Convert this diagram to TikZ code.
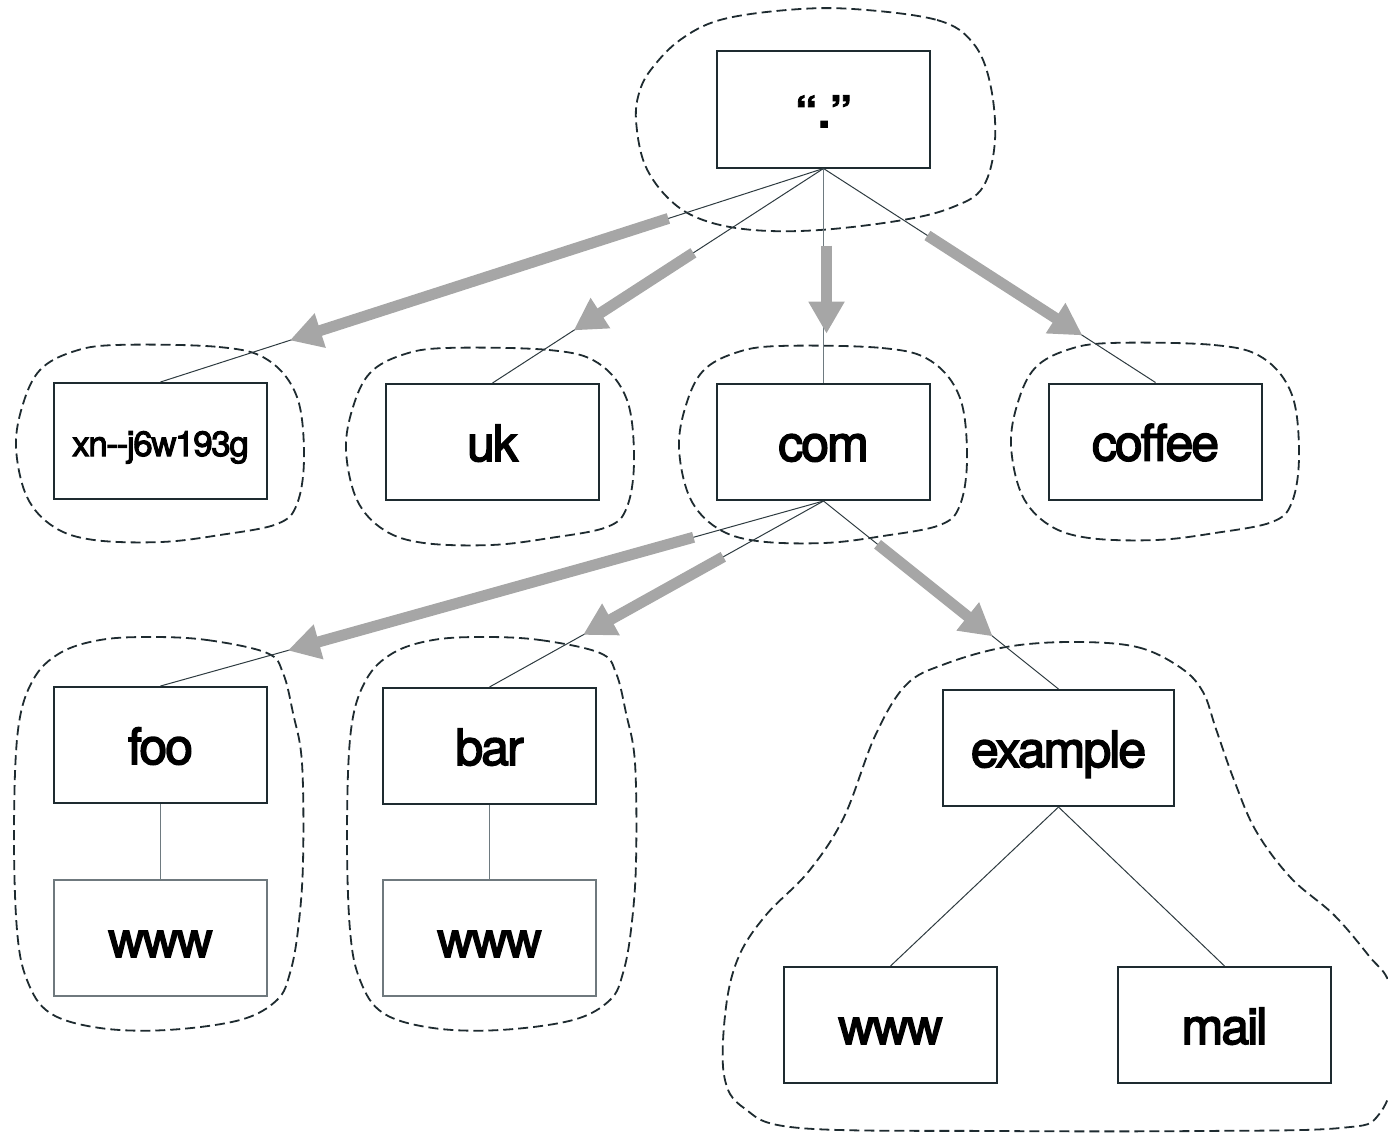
\documentclass[tikz,border=0pt]{standalone}
\usepackage{fontspec}
\setmainfont{TeX Gyre Heros}[LetterSpace=-4,FakeBold=3,Ligatures=TeXOff]
\newfontfamily\qfont{TeX Gyre Heros Bold}[LetterSpace=2,FakeBold=2]
\usetikzlibrary{arrows.meta,calc}
\definecolor{boxc}{HTML}{1E2B30}
\definecolor{linec}{HTML}{2E3B40}
\definecolor{garr}{HTML}{A6A6A6}
\definecolor{litec}{HTML}{6F797E}
\definecolor{vconn}{HTML}{6E7A80}
\begin{document}
\begin{tikzpicture}[x=1pt,y=-1pt,
  dnsbox/.style={draw=boxc,line width=2pt,fill=white,minimum width=213pt,minimum height=116pt,inner sep=0pt,
    font=\fontsize{50pt}{60pt}\selectfont,text height=38pt,text depth=0pt},
  smalltxt/.style={font=\fontsize{35pt}{42pt}\selectfont,text height=30pt},
  rootlbl/.style={font=\fontsize{44pt}{54pt}\qfont,text height=36pt},
  litebox/.style={dnsbox,draw=litec,line width=1.3pt},
  conn/.style={draw=linec,line width=1pt},
  blob/.style={draw=boxc,line width=1.8pt,dash pattern=on 10pt off 5pt},
  garrow/.style={draw=garr,line width=11pt,-{Triangle[length=32pt,width=34pt]}}]
\useasboundingbox (0,0) rectangle (1388,1132);
\begin{scope}
\clip (0,0) rectangle (1388,1132);
% root blob
\draw[blob] plot[smooth cycle,tension=0.6] coordinates {(853,9) (937,20) (973,43) (990,83) (995,140) (983,187) (953,207) (903,220) (820,230) (753,230) (703,220) (670,200) (645,165) (636,120) (640,90) (653,67) (680,40) (720,20) (787,10)};
% small blobs (same shape, shifted)
\foreach \sx/\sy in {162/439, 492/442, 825/440, 1157/437}{
  \begin{scope}[shift={(\sx,\sy)}]
  \draw[blob] plot[smooth cycle,tension=0.6] coordinates {(-46,-94) (57,-92) (106,-79) (135,-42) (142,18) (135,65) (115,85) (58,96) (-1,103) (-68,101) (-108,88) (-135,58) (-146,8) (-139,-35) (-122,-69) (-90,-87)};
  \end{scope}}
% foo and bar blobs
\foreach \sx in {0,333}{
  \begin{scope}[shift={(\sx,0)}]
  \draw[blob] plot[smooth cycle,tension=0.6] coordinates {(150,637) (207,640) (267,653) (283,673) (293,713) (302,763) (303,863) (298,930) (290,973) (277,1000) (240,1020) (167,1030) (100,1028) (50,1013) (27,980) (17,930) (14,830) (18,730) (33,680) (60,653) (100,640)};
  \end{scope}}
% example blob
\draw[blob] plot[smooth cycle,tension=0.6] coordinates {(1072,642) (1137,647) (1181,668) (1203,692) (1216,729) (1234,780) (1256,831) (1291,878) (1334,915) (1369,956) (1390,985) (1400,1050) (1380,1113) (1340,1128) (1200,1131) (1000,1131) (800,1128) (744,1108) (724,1075) (726,1007) (739,956) (766,915) (809,871) (844,817) (875,736) (906,685) (945,664) (1006,647)};
\end{scope}
% boxes
\node[dnsbox,rootlbl] (root) at (823.5,109.5) {“.”};
\node[dnsbox,smalltxt] (xn) at (160.5,441) {xn--j6w193g};
\node[dnsbox] (uk) at (492.5,442) {uk};
\node[dnsbox] (com) at (823.5,442) {com};
\node[dnsbox] (coffee) at (1155.5,441.5) {coffee};
\node[dnsbox] (foo) at (160.5,745) {foo};
\node[litebox] (foowww) at (160.5,938) {www};
\node[dnsbox] (bar) at (489.5,746) {bar};
\node[litebox] (barwww) at (489.5,938) {www};
\node[dnsbox,minimum width=231pt] (example) at (1058.5,748) {example};
\node[dnsbox] (exwww) at (890.5,1025) {www};
\node[dnsbox] (mail) at (1224.5,1025) {mail};
% thin connectors
\draw[conn] (root.south) -- (xn.north);
\draw[conn] (root.south) -- (uk.north);
\draw[conn,draw=vconn] (root.south) -- (com.north);
\draw[conn] (root.south) -- (coffee.north);
\draw[conn] (com.south) -- (foo.north);
\draw[conn] (com.south) -- (bar.north);
\draw[conn] (com.south) -- (example.north);
\draw[conn,draw=vconn] (foo.south) -- (foowww.north);
\draw[conn,draw=vconn] (bar.south) -- (barwww.north);
\draw[conn] (example.south) -- (exwww.north);
\draw[conn] (example.south) -- (mail.north);
% thick gray arrows
\draw[garrow] ($(root.south)!0.234!(xn.north)$) -- ($(root.south)!0.805!(xn.north)$);
\draw[garrow] ($(root.south)!0.393!(uk.north)$) -- ($(root.south)!0.755!(uk.north)$);
\draw[garrow] ($(root.south)!0.36!(com.north)+(3,0)$) -- ($(root.south)!0.77!(com.north)+(3,0)$);
\draw[garrow] ($(root.south)!0.313!(coffee.north)$) -- ($(root.south)!0.78!(coffee.north)$);
\draw[garrow] ($(com.south)!0.196!(foo.north)$) -- ($(com.south)!0.808!(foo.north)$);
\draw[garrow] ($(com.south)!0.30!(bar.north)$) -- ($(com.south)!0.72!(bar.north)$);
\draw[garrow] ($(com.south)!0.23!(example.north)$) -- ($(com.south)!0.72!(example.north)$);
\end{tikzpicture}
\end{document}
